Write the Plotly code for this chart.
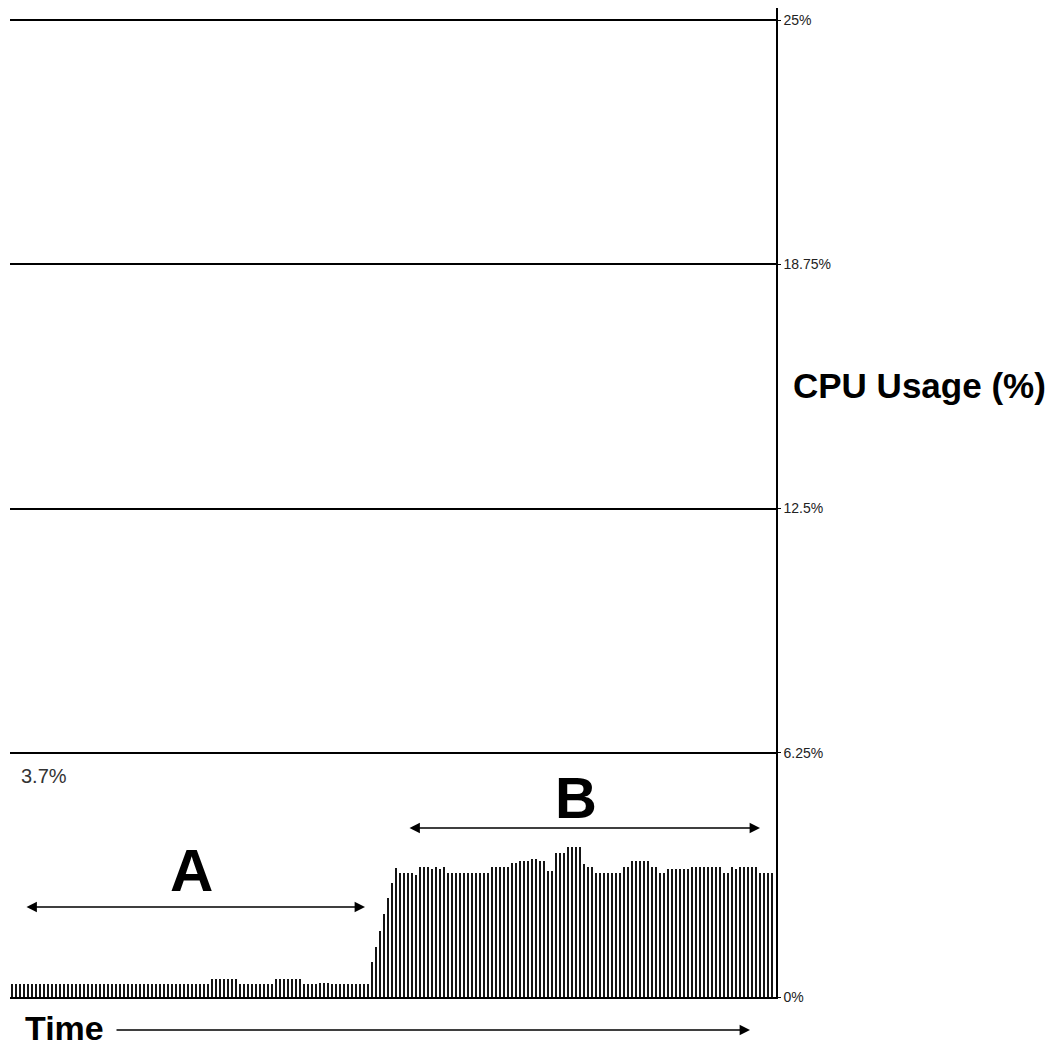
import plotly.graph_objects as go

# CPU usage samples (%), one bar per sample, read left to right
cpu_usage = [
    0.32, 0.32, 0.32, 0.32, 0.32, 0.32, 0.32, 0.32, 0.32, 0.32,
    0.32, 0.32, 0.32, 0.32, 0.32, 0.32, 0.32, 0.32, 0.32, 0.32,
    0.32, 0.32, 0.32, 0.32, 0.32, 0.32, 0.32, 0.32, 0.32, 0.32,
    0.32, 0.32, 0.32, 0.32, 0.32, 0.32, 0.32, 0.32, 0.32, 0.32,
    0.32, 0.32, 0.32, 0.32, 0.32, 0.32, 0.32, 0.32, 0.32, 0.32,
    0.47, 0.47, 0.47, 0.47, 0.47, 0.47, 0.47, 0.32, 0.32, 0.32,
    0.32, 0.32, 0.32, 0.32, 0.32, 0.32, 0.47, 0.47, 0.47, 0.47,
    0.47, 0.47, 0.47, 0.32, 0.32, 0.32, 0.32, 0.37, 0.37, 0.37,
    0.32, 0.32, 0.32, 0.32, 0.32, 0.32, 0.32, 0.32, 0.32, 0.32,
    0.89, 1.29, 1.70, 2.12, 2.53, 2.92, 3.29, 3.18, 3.18, 3.18,
    3.18, 3.13, 3.33, 3.33, 3.33, 3.28, 3.33, 3.28, 3.33, 3.18,
    3.18, 3.18, 3.18, 3.18, 3.18, 3.18, 3.18, 3.18, 3.18, 3.18,
    3.33, 3.33, 3.33, 3.33, 3.33, 3.44, 3.44, 3.49, 3.49, 3.49,
    3.54, 3.54, 3.49, 3.49, 3.23, 3.23, 3.69, 3.69, 3.69, 3.85,
    3.85, 3.85, 3.85, 3.40, 3.33, 3.33, 3.18, 3.18, 3.18, 3.18,
    3.18, 3.18, 3.18, 3.33, 3.33, 3.49, 3.49, 3.49, 3.49, 3.49,
    3.33, 3.33, 3.18, 3.18, 3.28, 3.28, 3.28, 3.28, 3.28, 3.28,
    3.33, 3.33, 3.33, 3.33, 3.33, 3.33, 3.33, 3.33, 3.18, 3.18,
    3.33, 3.28, 3.33, 3.33, 3.33, 3.33, 3.33, 3.18, 3.18, 3.18,
    3.18,
]
sample_idx = list(range(len(cpu_usage)))

tick_vals = [0, 6.25, 12.5, 18.75, 25]
tick_text = ['0%', '6.25%', '12.5%', '18.75%', '25%']

FONT = 'Liberation Sans, Arial, sans-serif'

fig = go.Figure()

fig.add_trace(go.Bar(
    x=sample_idx,
    y=cpu_usage,
    width=0.5,
    marker=dict(color='#151515', line=dict(width=0)),
    showlegend=False,
    hoverinfo='skip'
))

# plot area on screen (page has 8px body margin): x 10..776, y 8..997
def px(x):
    return (x - 10) / 766

def py(y):
    return (997 - y) / 989

annots = [
    dict(x=px(791), y=py(386), text='<b>CPU Usage (%)</b>', xanchor='left', yanchor='middle',
         font=dict(size=35, color='black')),
    dict(x=px(23), y=py(1028), text='<b>Time</b>', xanchor='left', yanchor='middle',
         font=dict(size=34, color='black')),
    dict(x=px(191), y=py(870), text='<b>A</b>', xanchor='center', yanchor='middle',
         font=dict(size=60, color='black')),
    dict(x=px(576), y=py(797), text='<b>B</b>', xanchor='center', yanchor='middle',
         font=dict(size=58, color='black')),
    dict(x=px(19), y=py(776), text='3.7%', xanchor='left', yanchor='middle',
         font=dict(size=20, color='#333333')),
]
for a in annots:
    a.update(xref='paper', yref='paper', showarrow=False)

# arrows (A span, B span, time axis)
arrows = [
    (365, 907, 25, 907, 'end+start'),
    (760, 828, 408, 828, 'end+start'),
    (750, 1030, 115, 1030, 'end'),
]
for hx, hy, tx, ty, side in arrows:
    annots.append(dict(
        x=px(hx), y=py(hy), xref='paper', yref='paper',
        ax=tx - hx, ay=ty - hy, axref='pixel', ayref='pixel',
        text='', showarrow=True, arrowhead=2, startarrowhead=2,
        arrowside=side, arrowsize=1.3, startarrowsize=1.3,
        arrowwidth=1.6, arrowcolor='black'
    ))

fig.update_layout(
    width=1056,
    height=1048,
    margin=dict(l=2, r=288, t=0, b=59),
    paper_bgcolor='white',
    plot_bgcolor='white',
    font=dict(family=FONT, color='black'),
    bargap=0,
    annotations=annots,
    xaxis=dict(
        range=[-0.5, 191],
        showgrid=False,
        zeroline=False,
        showticklabels=False,
        ticks='',
        showline=True,
        linecolor='black',
        linewidth=2,
    ),
    yaxis=dict(
        range=[0, 25.307],
        side='right',
        tickvals=tick_vals,
        ticktext=tick_text,
        tickfont=dict(size=14, color='#222222'),
        ticks='outside',
        ticklen=3,
        tickcolor='black',
        showgrid=True,
        gridcolor='black',
        gridwidth=1.5,
        zeroline=False,
        showline=True,
        linecolor='black',
        linewidth=1.5,
    ),
)

fig.write_html("out.html")
